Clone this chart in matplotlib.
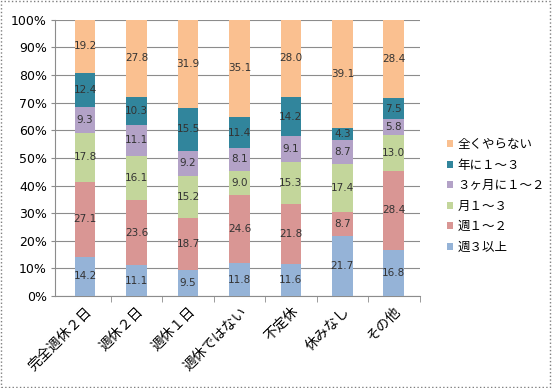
import numpy as np
import matplotlib.pyplot as plt
from matplotlib.patches import Rectangle

plt.rcParams['font.family'] = ['Noto Sans CJK JP', 'DejaVu Sans']

categories = ['完全週休２日', '週休２日', '週休１日', '週休ではない', '不定休', '休みなし', 'その他']
series_names = ['週３以上', '週１～２', '月１～３', '３ヶ月に１～２', '年に１～３', '全くやらない']
w3 = [14.2, 11.1, 9.5, 11.8, 11.6, 21.7, 16.8]
w12 = [27.1, 23.6, 18.7, 24.6, 21.8, 8.7, 28.4]
m13 = [17.8, 16.1, 15.2, 9.0, 15.3, 17.4, 13.0]
q12 = [9.3, 11.1, 9.2, 8.1, 9.1, 8.7, 5.8]
y13 = [12.4, 10.3, 15.5, 11.4, 14.2, 4.3, 7.5]
never = [19.2, 27.8, 31.9, 35.1, 28.0, 39.1, 28.4]
colors = ['#95B3D7', '#D99694', '#C3D69B', '#B3A2C7', '#31859C', '#FAC090']

series = [w3, w12, m13, q12, y13, never]

fig = plt.figure(figsize=(5.52, 3.88), dpi=100)
ax = fig.add_axes([0.10, 0.237, 0.66, 0.712])

x = np.arange(len(categories))
tot = np.array([sum(s[i] for s in series) for i in range(len(categories))])
bottom = np.zeros(len(categories))
for name, vals, c in zip(series_names, series, colors):
    vals = np.array(vals)
    pct = vals / tot * 100
    ax.bar(x, pct, 0.40, bottom=bottom, color=c, label=name, zorder=3,
           edgecolor='none')
    for xi, b, p, v in zip(x, bottom, pct, vals):
        ax.text(xi, b + p / 2, f'{v:.1f}', ha='center', va='center',
                fontsize=7.5, color='#333333', family='DejaVu Sans', zorder=4)
    bottom += pct

ax.set_xlim(-0.58, len(categories) - 0.5)
ax.set_ylim(0, 100)
ax.set_yticks(np.arange(0, 101, 10))
ax.set_yticklabels([f'{v}%' for v in range(0, 101, 10)], fontsize=9,
                   family='DejaVu Sans')
ax.yaxis.grid(True, color='#8c8c8c', linewidth=0.8, zorder=0)
ax.set_xticks(x)
ax.set_xticklabels(categories, rotation=45, ha='right', va='top',
                   rotation_mode='anchor', fontsize=10)
ax.tick_params(axis='x', length=0, pad=6)
ax.set_xticks(np.arange(0.5, len(categories)), minor=True)
ax.tick_params(axis='x', which='minor', length=4, color='#8c8c8c')
ax.tick_params(axis='y', length=3, color='#8c8c8c', pad=3)
for s in ['top', 'right']:
    ax.spines[s].set_visible(False)
for s in ['left', 'bottom']:
    ax.spines[s].set_color('#8c8c8c')

handles, labels = ax.get_legend_handles_labels()
leg = fig.legend(handles[::-1], labels[::-1], loc='center left',
                 bbox_to_anchor=(0.79, 0.495), frameon=False, fontsize=9,
                 handlelength=0.45, handleheight=0.45, handletextpad=0.35,
                 labelspacing=0.6)

fig.patches.append(Rectangle((0.002, 0.003), 0.995, 0.994, transform=fig.transFigure,
                             fill=False, edgecolor='#7f7f7f', linestyle=':',
                             linewidth=1))

fig.savefig('out.png', dpi=100)
